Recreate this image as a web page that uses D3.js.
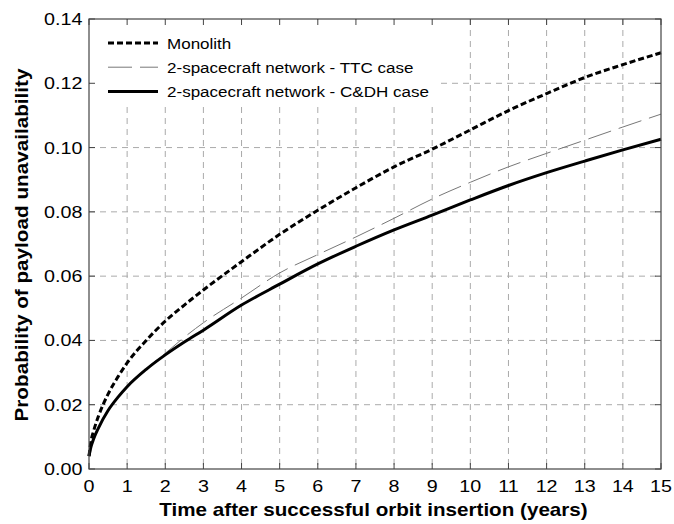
<!DOCTYPE html>
<html><head><meta charset="utf-8">
<script src="https://cdn.jsdelivr.net/npm/d3@7"></script>
<style>body{margin:0;background:#fff}svg{display:block}text{font-family:"Liberation Sans",Arial,sans-serif}</style>
</head><body><svg id="c" width="674" height="524"></svg>
<script>
const years = [0,0.05,0.12,0.25,0.5,0.75,1,1.5,2,2.5,3,4,5,6,7,8,9,10,11,12,13,14,15];
const monolith = [0.004,0.0085,0.0118,0.0165,0.0233,0.0285,0.033,0.040,0.046,0.051,0.0557,0.0645,0.073,0.0805,0.0875,0.094,0.0995,0.1055,0.1115,0.1168,0.1218,0.1258,0.1295];
const ttc = [0.004,0.0068,0.0093,0.0128,0.0182,0.0222,0.0256,0.0312,0.036,0.041,0.0455,0.0532,0.061,0.0667,0.0722,0.078,0.084,0.0892,0.094,0.0982,0.1023,0.1064,0.1104];
const cdh = [0.004,0.0068,0.0093,0.0128,0.0182,0.0222,0.0256,0.031,0.0355,0.0395,0.0432,0.051,0.0575,0.0638,0.0693,0.0744,0.079,0.0837,0.0882,0.0922,0.0958,0.0993,0.1026];
const xTicks = d3.range(0,16,1);
const yTicks = [0,0.02,0.04,0.06,0.08,0.10,0.12,0.14];
const seriesNames = ["Monolith","2-spacecraft network - TTC case","2-spacecraft network - C&DH case"];

const svg = d3.select("#c");
const L=89,R=661,T=19,B=469;
const x = d3.scaleLinear().domain([0,15]).range([L,R]);
const y = d3.scaleLinear().domain([0,0.14]).range([B,T]);
const gridC="#aaa";
const K=1.16; // horizontal stretch of the reference lettering

// grid
svg.append("g").selectAll("line").data(xTicks.slice(1,-1)).join("line")
  .attr("x1",d=>x(d)).attr("x2",d=>x(d)).attr("y1",T).attr("y2",B)
  .attr("stroke",gridC).attr("stroke-width",1).attr("stroke-dasharray","6,5");
svg.append("g").selectAll("line").data(yTicks.slice(1,-1)).join("line")
  .attr("x1",L).attr("x2",R).attr("y1",d=>y(d)).attr("y2",d=>y(d))
  .attr("stroke",gridC).attr("stroke-width",1).attr("stroke-dasharray","6,5");

// series
const styles = [
  {data:monolith, w:3, color:"#000", dash:"6,3"},
  {data:ttc, w:1, color:"#777", dash:"24,8"},
  {data:cdh, w:3, color:"#000", dash:null}
];
const line = d3.line().x((d,i)=>x(years[i])).y(d=>y(d)).curve(d3.curveMonotoneX);
styles.forEach(s=>{
  svg.append("path").datum(s.data).attr("d",line).attr("fill","none")
    .attr("stroke",s.color).attr("stroke-width",s.w)
    .attr("stroke-dasharray",s.dash);
});

// legend background
svg.append("rect").attr("x",L+1).attr("y",T+1).attr("width",438-L).attr("height",106-T).attr("fill","#fff");
const lg = svg.append("g");
styles.forEach((s,i)=>{
  const yy = 43 + i*24.2;
  lg.append("line").attr("x1",108).attr("x2",158).attr("y1",yy).attr("y2",yy)
    .attr("stroke",s.color).attr("stroke-width",s.w).attr("stroke-dasharray",s.dash);
  lg.append("text").attr("transform",`translate(167,${yy+5.5}) scale(1.135,1)`)
    .attr("font-size",15).attr("fill","#000").text(seriesNames[i]);
});

// frame & ticks
const axC="#444";
svg.append("rect").attr("x",L).attr("y",T).attr("width",R-L).attr("height",B-T)
  .attr("fill","none").attr("stroke",axC).attr("stroke-width",1.2);
const tl=6;
xTicks.forEach(d=>{
  svg.append("line").attr("x1",x(d)).attr("x2",x(d)).attr("y1",B).attr("y2",B-tl).attr("stroke",axC);
  svg.append("line").attr("x1",x(d)).attr("x2",x(d)).attr("y1",T).attr("y2",T+tl).attr("stroke",axC);
});
yTicks.forEach(d=>{
  svg.append("line").attr("x1",L).attr("x2",L+tl).attr("y1",y(d)).attr("y2",y(d)).attr("stroke",axC);
  svg.append("line").attr("x1",R).attr("x2",R-tl).attr("y1",y(d)).attr("y2",y(d)).attr("stroke",axC);
});

// tick labels
svg.append("g").selectAll("text").data(xTicks).join("text")
  .attr("transform",d=>`translate(${x(d)},492) scale(${K},1)`)
  .attr("text-anchor","middle").attr("font-size",17).text(d=>d);
svg.append("g").selectAll("text").data(yTicks).join("text")
  .attr("transform",d=>`translate(82.5,${y(d)+6}) scale(${K},1)`)
  .attr("text-anchor","end").attr("font-size",17).text(d=>d.toFixed(2));

// axis titles
svg.append("text").attr("transform",`translate(373.5,516) scale(1.166,1)`).attr("text-anchor","middle")
  .attr("font-size",17.7).attr("font-weight","bold").text("Time after successful orbit insertion (years)");
svg.append("text").attr("transform",`translate(28,245) rotate(-90) scale(1.17,1)`).attr("text-anchor","middle")
  .attr("font-size",17.7).attr("font-weight","bold").text("Probability of payload unavailability");
</script></body></html>
